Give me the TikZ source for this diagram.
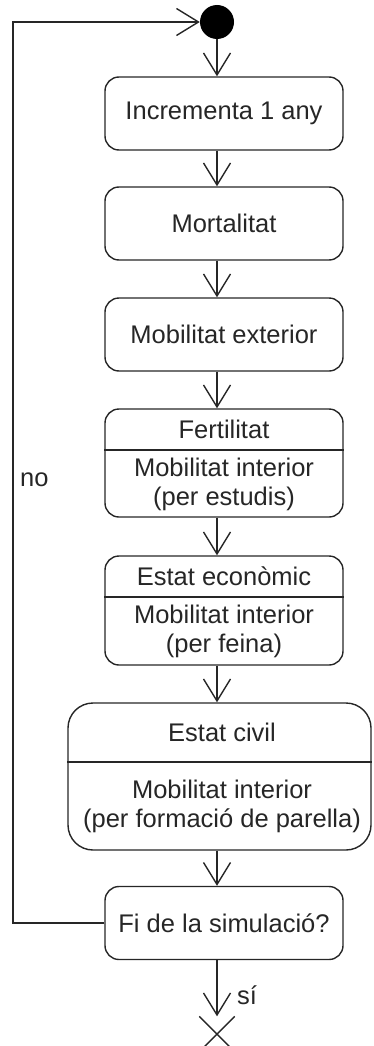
\documentclass[tikz,border=0pt]{standalone}
\usepackage{fontspec}
\setmainfont{Liberation Sans}
\usetikzlibrary{arrows.meta,shapes.misc}

\begin{document}
\begin{tikzpicture}[x=1pt,y=-1pt,
        act/.style={draw=black!85, rounded corners=14pt, line width=1.4pt, minimum width=238pt, minimum height=73pt, inner sep=0pt, text=black!85, font=\fontsize{25.5}{29}\selectfont, align=center},
        lbl/.style={text=black!85, font=\fontsize{25.5}{29}\selectfont, align=center, inner sep=0pt},
        flow/.style={draw=black!85, line width=1.4pt, -{Straight Barb[length=22pt,width=27pt,line width=1.4pt]}}]
    \useasboundingbox (0,0) rectangle (373,1046);

    % start and end
    \node[circle, fill=black, minimum size=34pt, inner sep=0pt] (start) at (217,22) {};
    \node[cross out, draw=black!85, line width=1.4pt, minimum size=34pt, inner sep=0pt] (stop) at (217,1034) {};

    % simple activities
    \node[act] (inc) at (224,113.5) {Incrementa 1 any};
    \node[act] (mort) at (224,223.5) {Mortalitat};
    \node[act] (mobext) at (224,334.5) {Mobilitat exterior};
    \node[act] (fi) at (224,923) {Fi de la simulació?};

    % activities with two parts
    \node[act, minimum height=108pt] (fert) at (224,463) {};
    \draw[draw=black!85, line width=1.4pt] (fert.west |- 0,450) -- (fert.east |- 0,450);
    \node[lbl] (fertA) at (224,429.5) {Fertilitat};
    \node[lbl] (fertB) at (224,484) {Mobilitat interior\\(per estudis)};

    \node[act, minimum height=109pt] (econ) at (224,610.5) {};
    \draw[draw=black!85, line width=1.4pt] (econ.west |- 0,597) -- (econ.east |- 0,597);
    \node[lbl] (econA) at (224,576.5) {Estat econòmic};
    \node[lbl] (econB) at (224,631.5) {Mobilitat interior\\(per feina)};

    \node[act, rounded corners=25pt, minimum width=303pt, minimum height=147pt] (civil) at (219.5,776.5) {};
    \draw[draw=black!85, line width=1.4pt] (civil.west |- 0,762) -- (civil.east |- 0,762);
    \node[lbl] (civilA) at (222,732) {Estat civil};
    \node[lbl] (civilB) at (222,806) {Mobilitat interior\\(per formació de parella)};

    % flow
    \draw[flow] (start.south) -- (start.south |- inc.north);
    \draw[flow] (inc.south -| start) -- (mort.north -| start);
    \draw[flow] (mort.south -| start) -- (mobext.north -| start);
    \draw[flow] (mobext.south -| start) -- (fert.north -| start);
    \draw[flow] (fert.south -| start) -- (econ.north -| start);
    \draw[flow] (econ.south -| start) -- (civil.north -| start);
    \draw[flow] (civil.south -| start) -- (fi.north -| start);
    \draw[flow] (fi.south -| start) -- (stop.north);

    % loop back
    \coordinate (corner) at (13,923);
    \draw[flow] (fi.west) -- (corner) |- (start.west);
    \node[lbl, anchor=west] (no) at (20,480) {no};
    \node[lbl, anchor=west] (si) at (237,995) {sí};
\end{tikzpicture}
\end{document}
